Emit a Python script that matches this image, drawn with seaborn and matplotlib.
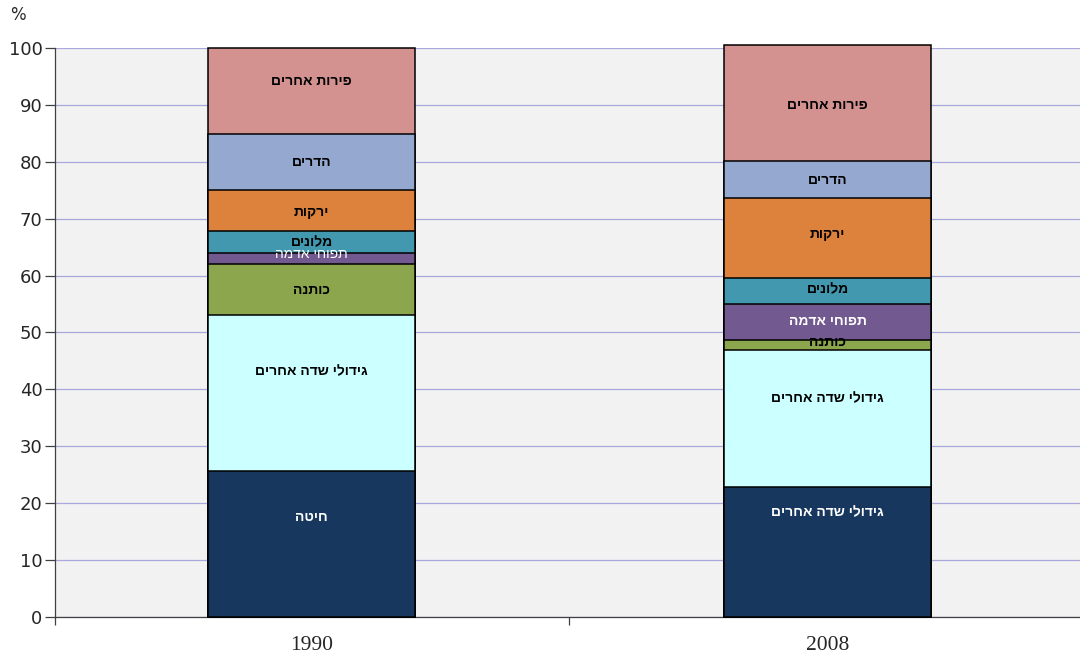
import numpy as np
import pandas as pd
import matplotlib
matplotlib.use("Agg")
import matplotlib.pyplot as plt
import seaborn as sns

# =============================================================================
# Datos (porcentaje del valor de la producción)
# =============================================================================
YEARS = ["1990", "2008"]

# orden de abajo hacia arriba
CROPS = ["חיטה", "גידולי שדה אחרים", "כותנה", "תפוחי אדמה",
         "מלונים", "ירקות", "הדרים", "פירות אחרים"]

VALUES_1990 = [25.7, 27.3, 9.1, 1.8, 3.9, 7.3, 9.7, 15.2]
VALUES_2008 = [22.9, 24.0, 1.8, 6.3, 4.6, 14.0, 6.5, 20.4]

# etiquetas tal como aparecen en cada barra
LABELS_1990 = CROPS
LABELS_2008 = ["גידולי שדה אחרים", "גידולי שדה אחרים", "כותנה", "תפוחי אדמה",
               "מלונים", "ירקות", "הדרים", "פירות אחרים"]

COLORS = ["#17375E", "#CCFFFF", "#8BA64C", "#72598F",
          "#4198AF", "#DC823C", "#95A9D0", "#D39290"]
TEXT_COLORS = ["white", "black", "black", "white",
               "black", "black", "black", "black"]

# posición vertical de las etiquetas (en unidades del eje)
LABEL_Y_1990 = [17.6, 43.2, 57.5, 63.8, 65.9, 71.2, 80.0, 94.2]
LABEL_Y_2008 = [18.5, 38.5, 48.3, 52.0, 57.6, 67.3, 76.8, 90.0]

BAR_WIDTH = 0.401


def rtl(text: str) -> str:
    """matplotlib dibuja de izquierda a derecha: invertir el texto hebreo."""
    return text[::-1]


# =============================================================================
# Gráfico
# =============================================================================
sns.set_theme(style="white")
plt.rcParams["font.family"] = ["DejaVu Sans"]

fig = plt.figure(figsize=(10.8, 6.58), dpi=100)
ax = fig.add_axes([55 / 1080, 41 / 658, 1 - 55 / 1080, 569 / 658])
ax.set_facecolor("#F2F2F2")

tops = pd.DataFrame({
    "year": np.repeat(YEARS, len(CROPS)),
    "crop": CROPS * len(YEARS),
    "top": np.concatenate([np.cumsum(VALUES_1990), np.cumsum(VALUES_2008)]),
})

# apilado: se dibuja de arriba hacia abajo, cada barra desde cero
for i in reversed(range(len(CROPS))):
    sub = tops[tops["crop"] == CROPS[i]]
    sns.barplot(data=sub, x="year", y="top", order=YEARS, color=COLORS[i],
                width=BAR_WIDTH, edgecolor="black", linewidth=1.1,
                saturation=1, errorbar=None, ax=ax, zorder=3)

for p in ax.patches:
    p.set_clip_on(False)

# etiquetas dentro de los segmentos
for xpos, labels, ys in [(0, LABELS_1990, LABEL_Y_1990),
                         (1, LABELS_2008, LABEL_Y_2008)]:
    for lab, y, tc in zip(labels, ys, TEXT_COLORS):
        weight = "normal" if (xpos == 0 and lab == "תפוחי אדמה") else "bold"
        ax.text(xpos, y, rtl(lab), ha="center", va="center", color=tc,
                fontsize=10, fontweight=weight, family="Liberation Sans",
                zorder=5)

# ejes
ax.set_xlim(-0.497, 1.489)
ax.set_ylim(0, 100)
ax.set_yticks(range(0, 101, 10))
ax.yaxis.grid(True, color="#A8A8DC", linewidth=0.9, zorder=0)
ax.set_axisbelow(True)
ax.set_xlabel("")
ax.set_ylabel("")

ax.set_xticks([0, 1])
ax.set_xticklabels(YEARS, family="Liberation Serif", fontsize=15.5)
ax.set_xticks([-0.497, 0.499], minor=True)
ax.tick_params(axis="x", which="major", bottom=True, length=0, pad=14)
ax.tick_params(axis="x", which="minor", bottom=True, length=6, width=0.9,
               color="#404040", direction="out")
ax.tick_params(axis="y", which="major", left=True, length=7, width=0.9,
               color="#404040", direction="out", labelsize=13, pad=2)

for side in ["top", "right"]:
    ax.spines[side].set_visible(False)
ax.spines["left"].set_color("#404040")
ax.spines["left"].set_linewidth(0.9)
ax.spines["bottom"].set_color("#404040")
ax.spines["bottom"].set_linewidth(0.9)

fig.text(18 / 1080, 1 - 15 / 658, "%", ha="center", va="center", fontsize=12)

fig.savefig("out.png", dpi=100, facecolor="white")
plt.close(fig)
